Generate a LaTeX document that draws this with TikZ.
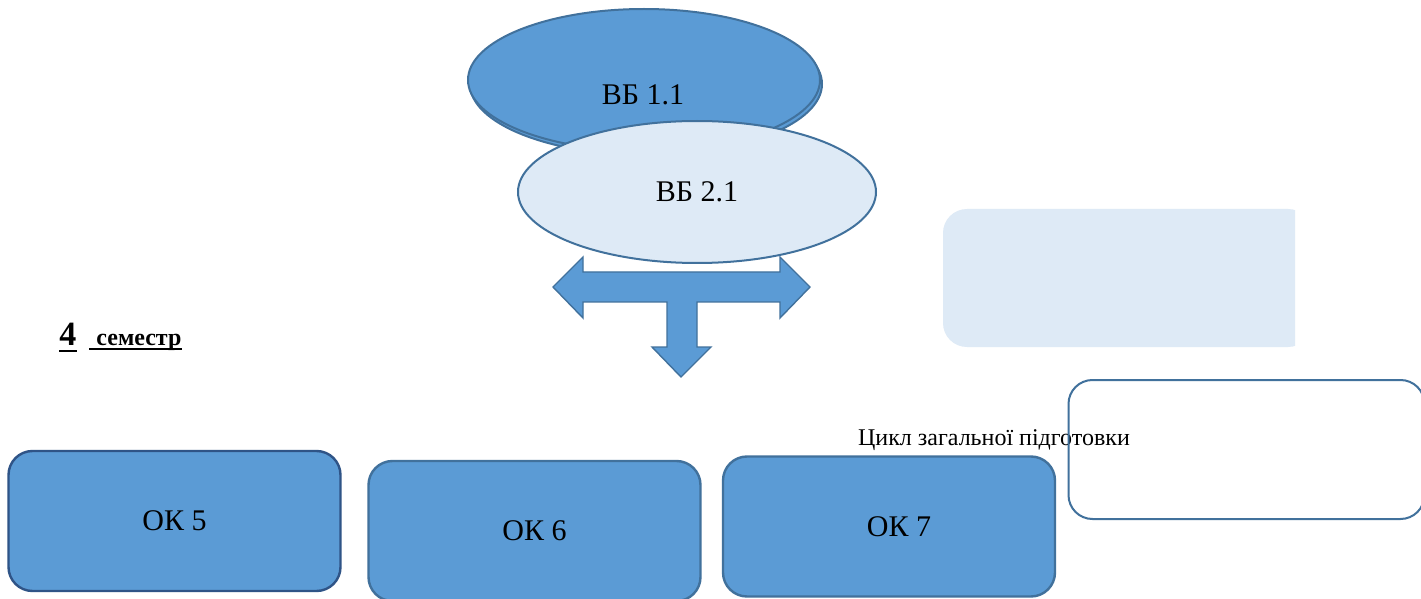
\documentclass[tikz,border=0pt]{standalone}
\usepackage{fontspec}
\setmainfont{Liberation Serif}
\usetikzlibrary{shapes.geometric}
\definecolor{midblue}{HTML}{5B9BD5}
\definecolor{paleblue}{HTML}{DEEAF6}
\definecolor{edgeblue}{HTML}{41719C}
\definecolor{darkedge}{HTML}{2F5487}
\tikzset{
  okbox/.style={draw=edgeblue, line width=1.2pt, fill=midblue, rounded corners=12pt,
    minimum width=166pt, minimum height=70pt, inner sep=0pt, font=\fontsize{15}{18}\selectfont},
  vbell/.style={ellipse, draw=edgeblue, line width=1pt, inner sep=0pt,
    minimum width=176pt, minimum height=71pt},
  bigtext/.style={inner sep=0pt, font=\fontsize{15}{18}\selectfont},
}
\begin{document}
\begin{tikzpicture}[x=0.5pt,y=-0.5pt]
        \clip (0,0) rectangle (1421,599);
        \fill[white] (0,0) rectangle (1421,599);

        % top ellipses and the three-way arrow
        \node[vbell, fill=midblue] (vb11s) at (646,84) {};
        \node[vbell, fill=midblue] (vb11) at (644,80) {};
        \node[bigtext] (vb11t) at (643,95) {ВБ 1.1};
        \draw[edgeblue, line width=0.7pt, fill=midblue] (553,287)--(583,257)--(583,272)--(780,272)--(780,257)--(810,287)
            --(780,318)--(780,302)--(697,302)--(697,347)--(711,347)--(681,377)--(652,347)--(667,347)
            --(667,302)--(583,302)--(583,318)--cycle;
        \node[vbell, fill=paleblue, minimum width=179pt, font=\fontsize{15}{18}\selectfont] (vb21) at (697,192) {ВБ 2.1};

        % right side blocks
        \begin{scope}
            \clip (900,200) rectangle (1295,360);
            \fill[paleblue, rounded corners=12pt] (943,209) rectangle (1312,347);
        \end{scope}
        \node[inner sep=0pt, font=\fontsize{12}{14}\selectfont] (cyc) at (994,440) {Цикл загальної підготовки};
        \node[draw=edgeblue, line width=1pt, rounded corners=12pt, minimum width=178pt,
            minimum height=69.5pt, inner sep=0pt] (cycbox) at (1246.5,449.5) {};

        % semester label
        \node[inner sep=0pt, anchor=base west, font=\fontsize{17}{20}\selectfont\bfseries] (sem) at (59,345) {4};
        \node[inner sep=0pt, anchor=base west, font=\fontsize{12}{14}\selectfont\bfseries] (semw) at (96,345) {семестр};
        \draw[line width=1pt] ([yshift=-3pt]sem.base west) -- ([yshift=-3pt]sem.base east);
        \draw[line width=1pt] ([xshift=-3.5pt,yshift=-2pt]semw.base west) -- ([yshift=-2pt]semw.base east);

        % bottom row
        \node[okbox, draw=darkedge] (ok5) at (174.5,521) {ОК 5};
        \node[okbox] (ok6) at (534.5,531) {ОК 6};
        \node[okbox] (ok7) at (889,526.5) {\hspace{10pt}ОК 7};

\end{tikzpicture}
\end{document}
